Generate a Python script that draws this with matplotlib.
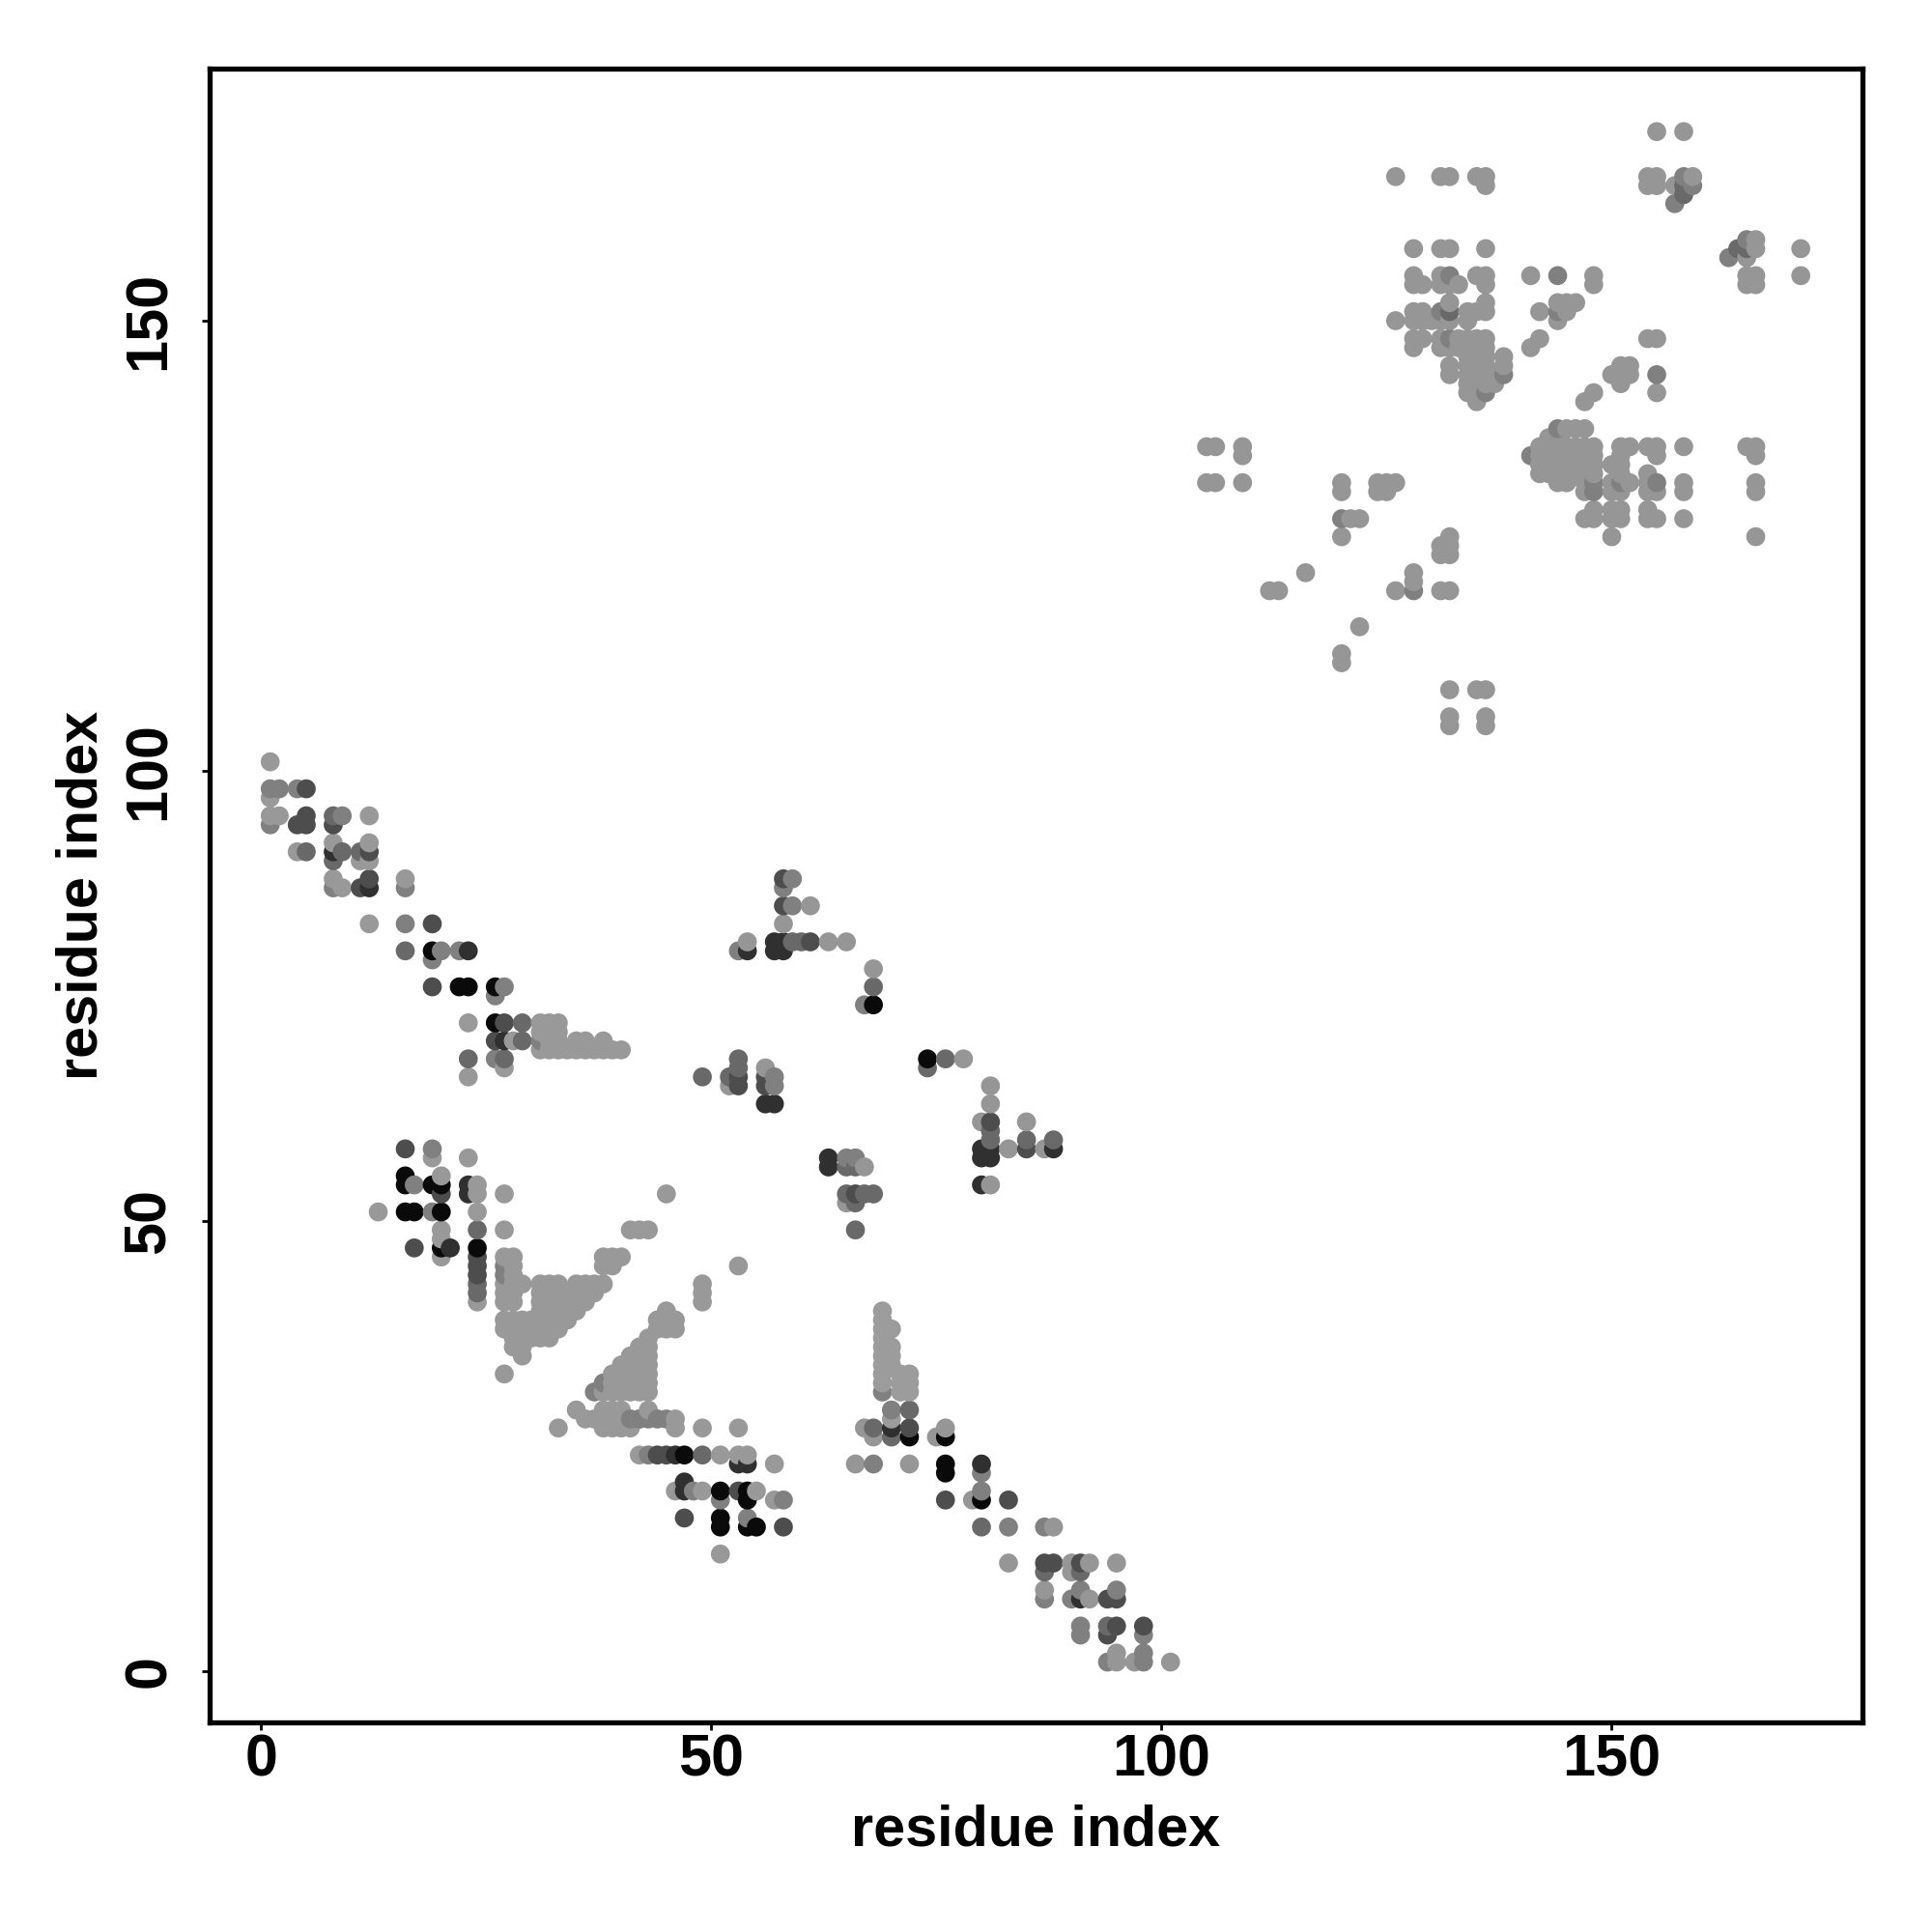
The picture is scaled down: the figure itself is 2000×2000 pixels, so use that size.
import numpy as np
import matplotlib
matplotlib.use('Agg')
import matplotlib.pyplot as plt

plt.rcParams['font.family'] = ['Liberation Sans', 'DejaVu Sans']

# contacts per shade of grey: {y residue: [x residues]}
light_arm = {
    101: [1], 97: [1], 95: [1, 2, 12], 92: [8, 12], 91: [4], 90: [11, 12],
    88: [8, 16], 87: [9], 83: [12], 72: [23, 31, 32, 33], 71: [31, 32, 33],
    70: [28, 32, 33, 35, 36, 38], 69: [31, 32, 33, 34, 35, 36, 37, 38, 39, 40],
    67: [27], 66: [23],
}
light_mid = {
    81: [54, 63, 65], 67: [56], 65: [52, 81], 63: [81], 61: [80, 85], 58: [83, 87],
    56: [67], 54: [81], 52: [65], 78: [68], 85: [61], 83: [58],
    68: [78], 27: [67, 76], 26: [68, 75], 23: [66, 72], 19: [79],
    16: [88], 12: [83, 90, 92, 95], 11: [90], 9: [87], 8: [92], 2: [95],
    1: [95, 97, 101],
}
light_low = {
    57: [19, 23], 55: [20], 54: [24], 53: [24, 27, 45], 51: [13, 24],
    49: [20, 27, 41, 42, 43], 48: [20], 46: [20, 27, 28, 38, 39, 40],
    45: [28, 38, 39, 53], 44: [28],
    43: [27, 28, 29, 31, 32, 33, 35, 36, 37, 38, 49],
    42: [27, 28, 31, 32, 33, 34, 35, 36, 37, 49],
    41: [24, 27, 28, 31, 32, 33, 34, 35, 36, 49],
    40: [31, 32, 33, 34, 35, 45],
    39: [27, 28, 29, 30, 31, 32, 33, 34, 44, 45, 46],
    38: [27, 28, 29, 30, 31, 32, 33, 44, 45, 46],
    37: [28, 29, 30, 31, 32, 43], 36: [28, 29, 42, 43], 35: [29, 41, 42, 43],
    34: [40, 41, 42, 43], 33: [27, 39, 40, 41, 42, 43],
    32: [39, 40, 41, 42, 43], 31: [38, 39, 40, 41, 42, 43],
    29: [35, 38, 39, 40, 43], 28: [36, 37, 38, 39, 40, 42, 46],
    27: [33, 38, 39, 40, 41, 46, 49, 53], 24: [42, 51, 53, 54], 23: [57],
    20: [46, 49, 55], 19: [57], 13: [51],
}
light_col = {
    40: [69], 39: [69], 38: [69, 70], 37: [69], 36: [69, 70], 35: [69, 70],
    34: [69, 70], 33: [69, 71, 72], 32: [69, 71, 72], 31: [71, 72],
    28: [70],
}
light_top = {
    171: [155, 158], 166: [126, 131, 132, 135, 136, 154, 155, 159],
    165: [136, 154, 155, 157], 159: [166], 158: [128, 131, 132, 136, 166, 171],
    157: [165], 155: [128, 131, 135, 136, 141, 148, 165, 166, 171],
    154: [128, 129, 131, 132, 133, 136, 148, 165, 166],
    152: [132, 136, 144, 145, 146],
    151: [128, 129, 134, 135, 136, 142, 145],
    150: [126, 128, 129, 130, 131, 132, 134, 144],
    148: [128, 129, 131, 133, 134, 135, 136, 142, 154, 155],
    147: [128, 131, 132, 133, 134, 135, 136, 141],
    146: [134, 135, 136, 138], 145: [132, 134, 135, 136, 138, 151, 152],
    144: [132, 134, 135, 136, 137, 150, 152],
    143: [134, 135, 136, 137, 151], 142: [134, 135, 148, 155], 141: [135, 147],
}
light_right = {
    138: [145, 146, 147], 137: [143, 144],
    136: [105, 106, 109, 142, 143, 144, 145, 146, 147, 148, 151, 152, 154, 155, 158, 165, 166],
    135: [109, 142, 143, 144, 145, 146, 147, 148, 151, 155, 166],
    134: [142, 143, 144, 145, 146, 147, 148, 150, 151],
    133: [142, 143, 144, 145, 146, 147, 148, 151, 154],
    132: [105, 106, 109, 120, 124, 125, 126, 144, 145, 147, 150, 152, 154, 158, 166],
    131: [120, 124, 125, 147, 150, 151, 154, 155, 158, 166],
    129: [148, 150, 151, 154], 128: [121, 122, 147, 148, 150, 151, 154, 155, 158],
    126: [120, 132, 150, 166], 125: [131, 132], 124: [131, 132], 122: [116, 128],
    121: [128], 120: [112, 113, 126, 131, 132], 116: [122], 113: [120], 112: [120],
    109: [132, 135, 136], 106: [132, 136], 105: [132, 136],
}
mid = {
    98: [1, 2, 4], 95: [9], 94: [1], 87: [8, 16, 58], 83: [16], 80: [20, 22, 53], 79: [19],
    76: [27], 75: [26], 74: [67], 70: [31], 68: [26], 88: [59], 85: [59],
    66: [57], 65: [57], 58: [19], 57: [65, 66], 54: [17], 51: [19], 45: [27],
    44: [27], 32: [38], 31: [37, 69], 29: [70], 28: [41, 42, 43, 44, 45], 24: [43], 23: [68], 22: [80],
    20: [48, 80], 19: [51, 58], 17: [54], 16: [83, 87], 9: [91, 95], 8: [87, 90],
    5: [91], 4: [91, 98], 2: [98], 1: [94, 98], 166: [158], 165: [159],
    163: [157], 159: [165], 157: [163], 155: [132, 144], 148: [132], 144: [138, 155],
    142: [136], 138: [144], 135: [141], 132: [148, 151, 155], 131: [148], 128: [120],
    120: [128], 151: [131, 144],
}
soft = {
    95: [8], 91: [5, 9, 11], 90: [8], 80: [16], 76: [68], 72: [29], 70: [29],
    68: [23, 27, 76, 53], 67: [53, 74], 66: [49, 52], 81: [59, 60], 60: [81], 59: [81, 85, 88],
    56: [65, 66], 53: [65, 67, 68], 52: [66], 49: [24, 66], 43: [24], 42: [24],
    29: [72], 27: [68], 26: [70], 24: [49], 16: [80], 11: [87, 91],
    5: [94], 165: [158], 164: [158], 158: [164, 165], 151: [132],
}
dark = {
    98: [5], 95: [5], 94: [4, 5, 8], 91: [12], 88: [12, 58], 87: [11], 83: [19],
    76: [19], 72: [27], 70: [26], 66: [53, 56], 65: [53, 56], 85: [58],
    81: [61], 61: [81], 58: [16, 85], 53: [20, 66], 47: [17], 46: [24], 45: [24], 44: [24],
    24: [44, 45], 20: [53], 19: [76, 83], 17: [47], 16: [58], 12: [87, 88, 91],
    8: [94, 95], 5: [95, 98], 4: [94], 27: [72],
}
darker = {
    91: [8], 87: [12], 80: [23, 54, 57, 58], 81: [57, 58], 70: [27], 63: [56, 57],
    58: [80, 81, 88], 57: [63, 80, 81], 56: [63], 54: [23, 80], 53: [23], 47: [21],
    24: [46], 23: [53, 54, 80], 21: [47], 20: [47], 27: [70], 8: [91],
}
black = {
    80: [19], 76: [22, 23, 26], 74: [68], 72: [26], 68: [74], 55: [16], 54: [16, 19, 20],
    51: [16, 17, 20], 47: [20, 24], 24: [47], 26: [72, 76], 23: [76], 22: [76],
    20: [51, 54], 19: [54, 80], 17: [51], 16: [51, 54, 55],
}

# tick values and axis words
tick_values = [0, 50, 100, 150]
axis_label = 'residue index'

groups = [
    (light_arm, 0.60), (light_mid, 0.59), (light_low, 0.60), (light_col, 0.61),
    (light_top, 0.59), (light_right, 0.59), (mid, 0.50), (soft, 0.41),
    (dark, 0.30), (darker, 0.19), (black, 0.04),
]

xs, ys, greys = [], [], []
for rows, grey in groups:
    for row, columns in rows.items():
        for col in columns:
            xs.append(col)
            ys.append(row)
            greys.append(grey)
xs = np.array(xs)
ys = np.array(ys)
greys = np.array(greys)

# points were plotted column by column, upwards
order = np.lexsort((ys, xs))

fig = plt.figure(figsize=(10, 10), dpi=200)
ax = fig.add_axes([217 / 2000, 1 - 1783 / 2000, (1928 - 217) / 2000, (1783 - 71) / 2000])
ax.scatter(xs[order], ys[order], s=50, c=np.repeat(greys[order], 3).reshape(-1, 3), linewidths=0)

ax.set_xlim(-5.73, 177.85)
ax.set_ylim(-5.7, 178)
ax.set_xticks(tick_values)
ax.set_yticks(tick_values)
ax.tick_params(length=3, width=1, labelsize=22)
for lab in ax.get_xticklabels():
    lab.set_fontweight('bold')
for lab in ax.get_yticklabels():
    lab.set_fontweight('bold')
    lab.set_rotation(90)
    lab.set_va('center')
ax.tick_params(axis='x', pad=1)
ax.tick_params(axis='y', pad=9)
ax.set_xlabel(axis_label, fontsize=21.4, fontweight='bold', labelpad=6)
ax.set_ylabel(axis_label, fontsize=21.4, fontweight='bold', labelpad=5)
for spine in ax.spines.values():
    spine.set_linewidth(1.9)

fig.savefig('out.png', dpi=200)
